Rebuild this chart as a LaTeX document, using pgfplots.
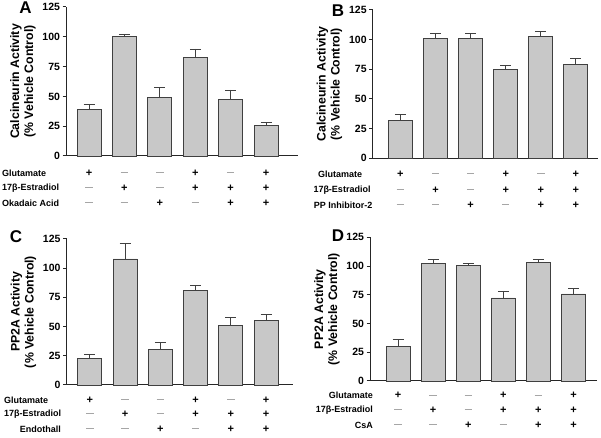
\documentclass[border=0pt]{standalone}
\usepackage{pgfplots}
\pgfplotsset{compat=1.18}
\usepackage{fontspec}
\setmainfont{Liberation Sans}
\definecolor{barfill}{HTML}{C8C8C8}
\definecolor{baredge}{HTML}{404040}
\newcommand{\pl}{{\fontsize{11}{11}\selectfont\textbf{+}}}
\newcommand{\mi}{\textcolor{black!35}{\rule[0.3ex]{7.5pt}{0.7pt}}}
\newcommand{\tabfont}{\bfseries\fontsize{9}{10}\selectfont}
\newcommand{\signs}[3]{%
  \foreach \i/\a/\b/\c in {0/\pl/\mi/\mi,1/\mi/\pl/\mi,2/\mi/\mi/\pl,3/\pl/\pl/\mi,4/\mi/\pl/\pl,5/\pl/\pl/\pl}{%
    \edef\temp{%
      \noexpand\node[font=\noexpand\tabfont] at ([yshift=-#1pt]axis cs:\i,0) {\unexpanded\expandafter{\a}};
      \noexpand\node[font=\noexpand\tabfont] at ([yshift=-#2pt]axis cs:\i,0) {\unexpanded\expandafter{\b}};
      \noexpand\node[font=\noexpand\tabfont] at ([yshift=-#3pt]axis cs:\i,0) {\unexpanded\expandafter{\c}};
    }\temp
  }}
\pgfplotsset{
  panel/.style={
    scale only axis, anchor=south west,
    axis x line=bottom, axis y line=left,
    axis line style={-, line width=1pt, black!85},
    ymin=0, ymax=125, ytick={0,25,50,75,100,125},
    xtick=\empty, tick align=outside, major tick length=3.5pt,
    ytick style={line width=1pt, black!85},
    yticklabel style={font=\bfseries\fontsize{10.5}{11}\selectfont, xshift=1pt},
    /pgf/number format/assume math mode=true,
    ylabel style={font=\bfseries\fontsize{12.3}{14}\selectfont, align=center},
    clip=false,
  },
  bars/.style={
    ybar, bar width=24pt, bar shift=0pt,
    fill=barfill, draw=baredge, line width=0.9pt,
    error bars/.cd, y dir=plus, y explicit,
    error bar style={line width=0.9pt, baredge},
    error mark options={rotate=90, mark size=5.5pt, line width=0.9pt, baredge},
  },
}
% x, value, error (upper)
\pgfplotstableread{
x y e
0 39.2 4.2
1 100.4 1.2
2 48.9 8.6
3 83.0 6.8
4 47.8 7.6
5 25.4 2.5
}\dataA
\pgfplotstableread{
x y e
0 31.7 5.6
1 100.8 4.6
2 100.8 4.6
3 74.7 3.6
4 103.0 4.2
5 79.2 4.6
}\dataB
\pgfplotstableread{
x y e
0 23.1 2.9
1 107.9 13.4
2 30.5 6.0
3 81.0 4.3
4 51.1 6.9
5 55.0 5.0
}\dataC
\pgfplotstableread{
x y e
0 30.2 6.0
1 102.6 3.2
2 100.9 1.4
3 72.2 6.1
4 103.5 2.6
5 75.7 4.9
}\dataD
\begin{document}
\begin{tikzpicture}
\useasboundingbox (0pt,0pt) rectangle (601pt,438pt);
% Panel A
\begin{axis}[panel, at={(66pt,282pt)}, width=232pt, height=149pt,
  xmin=-0.65, xmax=5.9,
  ylabel={Calcineurin Activity\\(\% Vehicle Control)}]
\addplot[bars] table[x=x, y=y, y error=e] {\dataA};
\signs{17}{32}{47}
\end{axis}
% Panel B
\begin{axis}[panel, at={(372.7pt,279.7pt)}, width=225.3pt, height=148.3pt,
  xmin=-0.79, xmax=5.63,
  ylabel={Calcineurin Activity\\(\% Vehicle Control)}]
\addplot[bars] table[x=x, y=y, y error=e] {\dataB};
\signs{16}{32}{47}
\end{axis}
% Panel C
\begin{axis}[panel, at={(66.5pt,53pt)}, width=226.5pt, height=146pt,
  xmin=-0.66, xmax=5.76,
  ylabel={PP2A Activity\\(\% Vehicle Control)}]
\addplot[bars] table[x=x, y=y, y error=e] {\dataC};
\signs{15}{29.3}{44.3}
\end{axis}
% Panel D
\begin{axis}[panel, at={(370pt,57pt)}, width=226.7pt, height=143.7pt,
  xmin=-0.80, xmax=5.66,
  ylabel={PP2A Activity\\(\% Vehicle Control)}]
\addplot[bars] table[x=x, y=y, y error=e] {\dataD};
\signs{14.7}{29.3}{44.3}
\end{axis}
% panel letters
\node[font=\bfseries\fontsize{17}{17}\selectfont] at (25.5pt,430pt) {A};
\node[font=\bfseries\fontsize{17}{17}\selectfont] at (338pt,427pt) {B};
\node[font=\bfseries\fontsize{17}{17}\selectfont] at (16pt,201pt) {C};
\node[font=\bfseries\fontsize{17}{17}\selectfont] at (338pt,202pt) {D};
% row labels
\begin{scope}[every node/.style={font=\tabfont, inner sep=0pt}]
\node[anchor=west] at (2pt,265pt) {Glutamate};
\node[anchor=west] at (2pt,250pt) {17β-Estradiol};
\node[anchor=west] at (2pt,235pt) {Okadaic Acid};
\node at (340pt,263.7pt) {Glutamate};
\node at (342pt,247.7pt) {17β-Estradiol};
\node at (343pt,232.7pt) {PP Inhibitor-2};
\node[anchor=west] at (4pt,38pt) {Glutamate};
\node[anchor=west] at (4pt,23.7pt) {17β-Estradiol};
\node[anchor=east] at (61pt,8.7pt) {Endothall};
\node[anchor=east] at (373pt,42.3pt) {Glutamate};
\node[anchor=east] at (373pt,27.7pt) {17β-Estradiol};
\node[anchor=east] at (373pt,12.7pt) {CsA};
\end{scope}
\end{tikzpicture}
\end{document}
